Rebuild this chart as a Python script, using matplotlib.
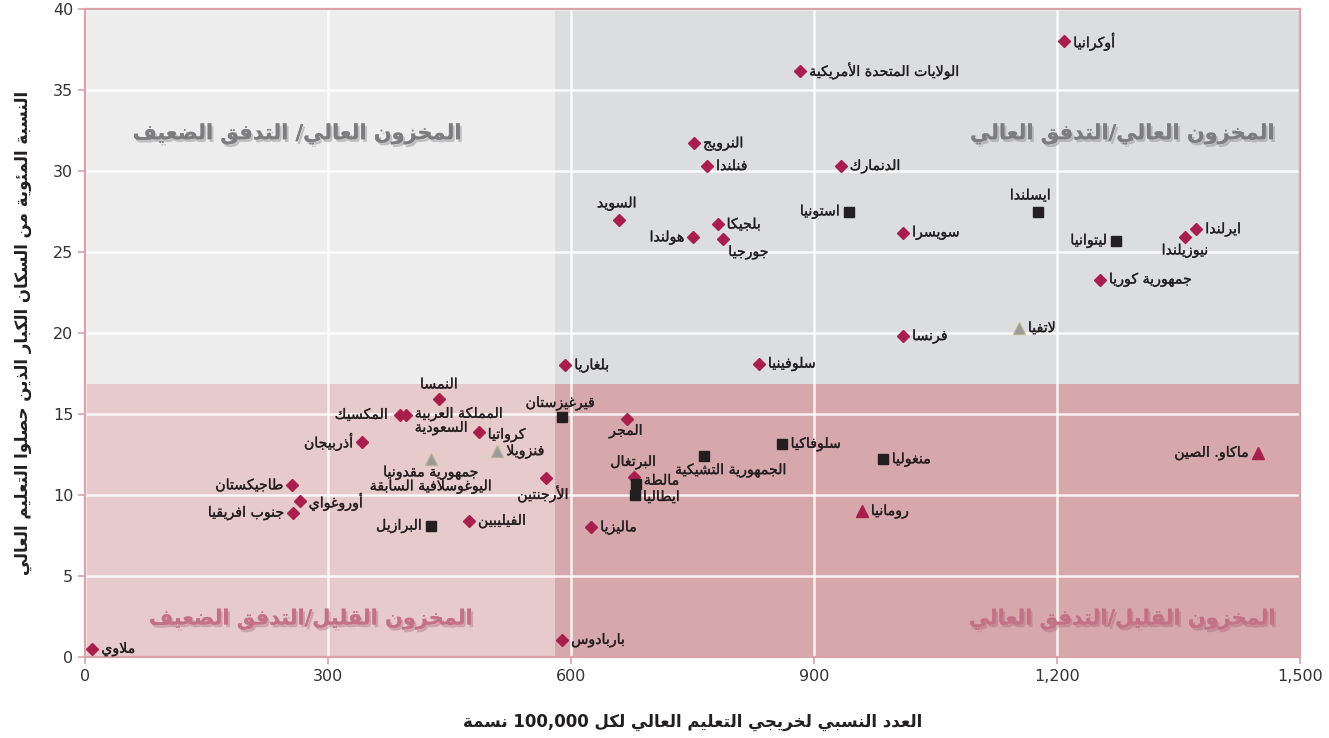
import re
import matplotlib
matplotlib.use('Agg')
import matplotlib.pyplot as plt
import matplotlib.patheffects as pe
from matplotlib.patches import Rectangle
from matplotlib.ticker import FuncFormatter

plt.rcParams['font.family'] = ['DejaVu Sans']

# ---- Arabic shaping (matplotlib has no shaping / RTL) ----
FORMS = {
    'ء': (0xFE80, 1), 'آ': (0xFE81, 2), 'أ': (0xFE83, 2), 'ؤ': (0xFE85, 2), 'إ': (0xFE87, 2),
    'ئ': (0xFE89, 4), 'ا': (0xFE8D, 2), 'ب': (0xFE8F, 4), 'ة': (0xFE93, 2), 'ت': (0xFE95, 4),
    'ث': (0xFE99, 4), 'ج': (0xFE9D, 4), 'ح': (0xFEA1, 4), 'خ': (0xFEA5, 4), 'د': (0xFEA9, 2),
    'ذ': (0xFEAB, 2), 'ر': (0xFEAD, 2), 'ز': (0xFEAF, 2), 'س': (0xFEB1, 4), 'ش': (0xFEB5, 4),
    'ص': (0xFEB9, 4), 'ض': (0xFEBD, 4), 'ط': (0xFEC1, 4), 'ظ': (0xFEC5, 4), 'ع': (0xFEC9, 4),
    'غ': (0xFECD, 4), 'ف': (0xFED1, 4), 'ق': (0xFED5, 4), 'ك': (0xFED9, 4), 'ل': (0xFEDD, 4),
    'م': (0xFEE1, 4), 'ن': (0xFEE5, 4), 'ه': (0xFEE9, 4), 'و': (0xFEED, 2), 'ى': (0xFEEF, 2),
    'ي': (0xFEF1, 4),
}
LAM_ALEF = {'آ': 0xFEF5, 'أ': 0xFEF7, 'إ': 0xFEF9, 'ا': 0xFEFB}


def _shape(s):
    out = []
    prev = None
    i = 0
    while i < len(s):
        c = s[i]
        if c not in FORMS:
            out.append(c)
            prev = None
            i += 1
            continue
        start, k = FORMS[c]
        link_prev = prev is not None and FORMS[prev][1] == 4
        if c == 'ل' and i + 1 < len(s) and s[i + 1] in LAM_ALEF:
            out.append(chr(LAM_ALEF[s[i + 1]] + (1 if link_prev else 0)))
            prev = s[i + 1]
            i += 2
            continue
        nxt = s[i + 1] if i + 1 < len(s) else None
        link_next = k == 4 and nxt in FORMS and nxt != 'ء'
        if k == 1:
            f = start
        elif link_prev and link_next:
            f = start + 3
        elif link_next:
            f = start + 2
        elif link_prev:
            f = start + 1
        else:
            f = start
        out.append(chr(f))
        prev = c
        i += 1
    return ''.join(out)


def ar(s):
    lines = []
    for line in s.split('\n'):
        vis = _shape(line)[::-1]
        vis = re.sub(r'[0-9][0-9,.]*[0-9]|[0-9]', lambda m: m.group(0)[::-1], vis)
        lines.append(vis)
    return '\n'.join(lines)


# ---- data ----
countries = [
    'أوكرانيا', 'الولايات المتحدة الأمريكية', 'النرويج', 'فنلندا', 'الدنمارك',
    'السويد', 'بلجيكا', 'هولندا', 'جورجيا', 'استونيا', 'سويسرا', 'ايسلندا',
    'ليتوانيا', 'ايرلندا', 'نيوزيلندا', 'جمهورية كوريا', 'لاتفيا', 'فرنسا',
    'سلوفينيا', 'بلغاريا', 'النمسا', 'المكسيك', 'المملكة العربية\nالسعودية',
    'كرواتيا', 'فنزويلا', 'أذربيجان', 'جمهورية مقدونيا\nاليوغوسلافية السابقة',
    'طاجيكستان', 'أوروغواي', 'جنوب افريقيا', 'البرازيل', 'الفيليبين', 'الأرجنتين',
    'قيرغيزستان', 'المجر', 'البرتغال', 'مالطة', 'ايطاليا', 'الجمهورية التشيكية',
    'سلوفاكيا', 'منغوليا', 'ماكاو. الصين', 'رومانيا', 'ماليزيا', 'باربادوس', 'ملاوي',
]
x_vals = [
    1209, 883, 752, 768, 933,
    659, 781, 751, 788, 943, 1010, 1177,
    1273, 1372, 1358, 1253, 1153, 1010,
    832, 593, 437, 389, 396,
    486, 509, 342, 427,
    256, 265, 257, 427, 474, 569,
    589, 669, 678, 680, 679, 764,
    860, 985, 1448, 959, 625, 589, 9,
]
y_vals = [
    38.0, 36.2, 31.7, 30.3, 30.3,
    27.0, 26.7, 25.9, 25.8, 27.5, 26.2, 27.5,
    25.7, 26.4, 25.9, 23.3, 20.3, 19.8,
    18.1, 18.0, 15.9, 14.95, 14.95,
    13.9, 12.7, 13.3, 12.2,
    10.6, 9.6, 8.9, 8.1, 8.4, 11.05,
    14.8, 14.7, 11.1, 10.7, 10.0, 12.4,
    13.15, 12.2, 12.6, 9.0, 8.0, 1.05, 0.5,
]
groups = [
    'D', 'D', 'D', 'D', 'D',
    'D', 'D', 'D', 'D', 'S', 'D', 'S',
    'S', 'D', 'D', 'D', 'TG', 'D',
    'D', 'D', 'D', 'D', 'D',
    'D', 'TG', 'D', 'TG',
    'D', 'D', 'D', 'S', 'D', 'D',
    'S', 'D', 'D', 'S', 'S', 'S',
    'S', 'S', 'TR', 'TR', 'D', 'D', 'D',
]

x_split = 580
y_split = 16.85
quad_labels = {
    'tl': 'المخزون العالي/ التدفق الضعيف',
    'tr': 'المخزون العالي/التدفق العالي',
    'bl': 'المخزون القليل/التدفق الضعيف',
    'br': 'المخزون القليل/التدفق العالي',
}
x_ticks = [0, 300, 600, 900, 1200, 1500]
y_ticks = [0, 5, 10, 15, 20, 25, 30, 35, 40]
xlabel = 'العدد النسبي لخريجي التعليم العالي لكل 100,000 نسمة'
ylabel = 'النسبة المئوية من السكان الكبار الذين حصلوا التعليم العالي'

# label placement (pixels offset, ha, va)
R = (9, 0, 'left', 'center')
L = (-9, 0, 'right', 'center')
label_pos = {
    'السويد': (-2, 9, 'center', 'bottom'),
    'هولندا': L,
    'جورجيا': (5, -6, 'left', 'top'),
    'استونيا': L,
    'ايسلندا': (-8, 9, 'center', 'bottom'),
    'ليتوانيا': L,
    'نيوزيلندا': (0, -6, 'center', 'top'),
    'النمسا': (0, 8, 'center', 'bottom'),
    'المكسيك': (-12, 0, 'right', 'center'),
    'المملكة العربية\nالسعودية': (9, 8, 'left', 'top'),
    'كرواتيا': (9, -3, 'left', 'center'),
    'أذربيجان': L,
    'جمهورية مقدونيا\nاليوغوسلافية السابقة': (0, -6, 'center', 'top'),
    'طاجيكستان': L,
    'جنوب افريقيا': L,
    'البرازيل': L,
    'الأرجنتين': (-3, -7, 'center', 'top'),
    'قيرغيزستان': (-2, 7, 'center', 'bottom'),
    'المجر': (-1, -5, 'center', 'top'),
    'البرتغال': (-1, 8, 'center', 'bottom'),
    'مالطة': (8, 3, 'left', 'center'),
    'ايطاليا': (8, -2, 'left', 'center'),
    'الجمهورية التشيكية': (27, -7, 'center', 'top'),
    'ماكاو. الصين': L,
}

marker_style = {
    'D': dict(marker='D', ms=6.2, mfc='#A81F4D', mec='#A81F4D'),
    'S': dict(marker='s', ms=7.5, mfc='#231F20', mec='#231F20'),
    'TG': dict(marker='^', ms=8.5, mfc='#9A9A9A', mec='#B9B48C', mew=0.8),
    'TR': dict(marker='^', ms=8.5, mfc='#A81F4D', mec='#A81F4D'),
}

fig = plt.figure(figsize=(13.29, 7.38), dpi=100)
ax = fig.add_axes([85 / 1329, 1 - 657 / 738, 1215 / 1329, 648 / 738])
ax.set_xlim(0, 1500)
ax.set_ylim(0, 40)

ax.add_patch(Rectangle((0, y_split), x_split, 40 - y_split, color='#EDEDED', zorder=0, lw=0))
ax.add_patch(Rectangle((x_split, y_split), 1500 - x_split, 40 - y_split, color='#DCDDDF', zorder=0, lw=0))
ax.add_patch(Rectangle((0, 0), x_split, y_split, color='#E7CACB', zorder=0, lw=0))
ax.add_patch(Rectangle((x_split, 0), 1500 - x_split, y_split, color='#D7A8AB', zorder=0, lw=0))

ax.set_xticks(x_ticks)
ax.set_yticks(y_ticks)
ax.xaxis.set_major_formatter(FuncFormatter(lambda v, p: f'{int(v):,}'))
ax.grid(True, color='white', lw=1.8, alpha=0.85, zorder=0.5)
ax.set_axisbelow(True)
for s in ax.spines.values():
    s.set_color('#D9A3AB')
    s.set_linewidth(1.6)
ax.tick_params(colors='#D9A3AB', labelcolor='#333333', labelsize=11.5, length=5, width=1.2)

# quadrant captions
gray_fx = [pe.withSimplePatchShadow(offset=(1.5, -2), shadow_rgbFace='#8A8A8A', alpha=0.45), pe.Normal()]
pink_fx = [pe.withSimplePatchShadow(offset=(1.5, -2), shadow_rgbFace='#9E5A6E', alpha=0.35), pe.Normal()]
qkw = dict(fontsize=15, fontweight='bold', ha='center', va='center', zorder=2)
ax.text(262, 32.3, ar(quad_labels['tl']), color='#7D7D80', path_effects=gray_fx, **qkw)
ax.text(1469, 32.3, ar(quad_labels['tr']), color='#7D7D80', path_effects=gray_fx,
        **{**qkw, 'ha': 'right'})
ax.text(279, 2.35, ar(quad_labels['bl']), color='#C47087', path_effects=pink_fx, **qkw)
ax.text(1470, 2.35, ar(quad_labels['br']), color='#C47087', path_effects=pink_fx,
        **{**qkw, 'ha': 'right'})

# points and labels (multi-line labels drawn line by line)
lab_fx = [pe.withStroke(linewidth=0.2, foreground='#231F20')]
line_h = 14
for name, xv, yv, g in zip(countries, x_vals, y_vals, groups):
    ax.plot([xv], [yv], ls='none', zorder=4, clip_on=False, **marker_style[g])
    dx, dy, ha, va = label_pos.get(name, R)
    for k, part in enumerate(name.split('\n')):
        ax.annotate(ar(part), (xv, yv), xytext=(dx, dy - k * line_h), textcoords='offset pixels',
                    ha=ha, va=va, fontsize=10.2, color='#231F20', zorder=5,
                    path_effects=lab_fx)

ax.set_xlabel(ar(xlabel), fontsize=12, fontweight='bold', color='#231F20', labelpad=21)
ax.set_ylabel(ar(ylabel), fontsize=12, fontweight='bold', color='#231F20', labelpad=15)

fig.savefig('out.png', dpi=100)
